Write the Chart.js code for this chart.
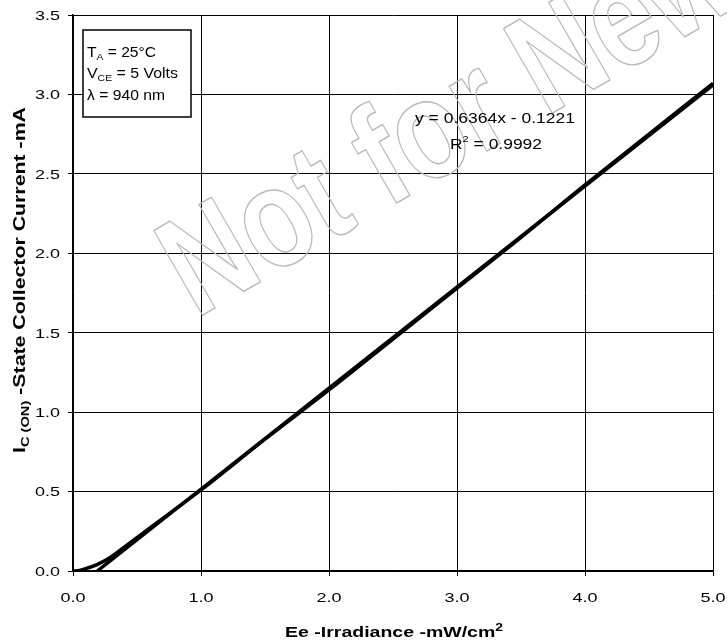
<!DOCTYPE html>
<html>
<head>
<meta charset="utf-8">
<script src="https://cdn.jsdelivr.net/npm/chart.js@4/dist/chart.umd.min.js"></script>
<style>
  html, body { margin: 0; padding: 0; background: #fff; }
  #wrap { width: 727px; height: 641px; position: relative; }
</style>
</head>
<body>
<div id="wrap"><canvas id="grafico"></canvas></div>
<script>
// measured curve
const medidoX = [0, 0.05, 0.1, 0.2, 0.3, 0.4, 0.5, 0.75, 1.0, 1.5, 2.0, 2.5, 3.0, 3.5, 4.0, 4.5, 5.0];
const medidoY = [0, 0.003, 0.015, 0.045, 0.09, 0.15, 0.21, 0.36, 0.51, 0.83, 1.14, 1.46, 1.78, 2.10, 2.43, 2.75, 3.07];
// linear trend line ends (y = 0.6364x - 0.1221)
const ajusteX = [0.19, 5.0];
const ajusteY = [0, 3.06];

const ticksX = ['0.0', '1.0', '2.0', '3.0', '4.0', '5.0'];
const ticksY = ['0.0', '0.5', '1.0', '1.5', '2.0', '2.5', '3.0', '3.5'];

const FONTE = '"Liberation Sans", Arial, sans-serif';

function pares(xs, ys) {
    return xs.map((x, i) => ({ x: x, y: ys[i] }));
}

// text pieces (with sub/superscripts), stretched horizontally to a width
function larguraRica(ctx, partes, negrito) {
    let w = 0;
    partes.forEach(p => {
        ctx.font = (negrito ? 'bold ' : '') + p.s + 'px ' + FONTE;
        w += ctx.measureText(p.t).width;
    });
    return w;
}

function textoRico(ctx, partes, x, y, alvo, negrito, alinhar) {
    const w = larguraRica(ctx, partes, negrito);
    const sx = alvo ? alvo / w : 1;
    let x0 = x;
    if (alinhar === 'center') x0 = x - w * sx / 2;
    if (alinhar === 'right') x0 = x - w * sx;
    ctx.save();
    ctx.translate(x0, y);
    ctx.scale(sx, 1);
    ctx.textAlign = 'left';
    ctx.textBaseline = 'alphabetic';
    ctx.fillStyle = '#000';
    let cx = 0;
    partes.forEach(p => {
        ctx.font = (negrito ? 'bold ' : '') + p.s + 'px ' + FONTE;
        ctx.fillText(p.t, cx, p.dy || 0);
        cx += ctx.measureText(p.t).width;
    });
    ctx.restore();
}

const pluginMarcaDagua = {
    id: 'marcaDagua',
    beforeDatasetsDraw(chart) {
        const ctx = chart.ctx;
        ctx.save();
        ctx.translate(196, 319);
        ctx.rotate(-30 * Math.PI / 180);
        ctx.scale(0.8, 1);
        ctx.font = 'bold 142px ' + FONTE;
        ctx.strokeStyle = '#b8b8b8';
        ctx.lineWidth = 1.4;
        ctx.lineJoin = 'round';
        ctx.strokeText('Not for New Design', 0, 0);
        ctx.restore();
    }
};

const pluginTextos = {
    id: 'textos',
    afterDraw(chart) {
        const ctx = chart.ctx;
        const sx = chart.scales.x;
        const sy = chart.scales.y;

        // tick labels
        ticksY.forEach(t => {
            const py = sy.getPixelForValue(parseFloat(t));
            textoRico(ctx, [{ t: t, s: 13.5 }], 60, py + 4.8, 25, false, 'right');
        });
        ticksX.forEach(t => {
            const px = sx.getPixelForValue(parseFloat(t));
            textoRico(ctx, [{ t: t, s: 13.5 }], px, 602, 25, false, 'center');
        });

        // axis titles
        textoRico(ctx, [
            { t: 'Ee -Irradiance -mW/cm', s: 15.5 },
            { t: '2', s: 11, dy: -6 }
        ], 285, 637, 218, true, 'left');

        ctx.save();
        ctx.translate(25, 453);
        ctx.rotate(-Math.PI / 2);
        textoRico(ctx, [
            { t: 'I', s: 16 },
            { t: 'C (ON)', s: 11, dy: 4 },
            { t: ' -State Collector Current -mA', s: 16 }
        ], 0, 0, 346, true, 'left');
        ctx.restore();

        // conditions box
        ctx.save();
        ctx.fillStyle = '#fff';
        ctx.fillRect(83, 30, 108, 87);
        ctx.strokeStyle = '#000';
        ctx.lineWidth = 1.5;
        ctx.strokeRect(83, 30, 108, 87);
        ctx.restore();
        textoRico(ctx, [{ t: 'T', s: 14.5 }, { t: 'A', s: 9.5, dy: 3 }, { t: ' = 25\u00B0C', s: 14.5 }], 87, 57, 69, false, 'left');
        textoRico(ctx, [{ t: 'V', s: 14.5 }, { t: 'CE', s: 9.5, dy: 3 }, { t: ' = 5 Volts', s: 14.5 }], 87, 78, 91, false, 'left');
        textoRico(ctx, [{ t: '\u03BB = 940 nm', s: 14.5 }], 87, 100, 78, false, 'left');

        // trend line equation
        textoRico(ctx, [{ t: 'y = 0.6364x - 0.1221', s: 15 }], 415, 123, 160, false, 'left');
        textoRico(ctx, [{ t: 'R', s: 15 }, { t: '2', s: 9.5, dy: -7 }, { t: ' = 0.9992', s: 15 }], 450, 149, 92, false, 'left');
    }
};

const dadosGrafico = {
    datasets: [
        {
            label: 'Medido',
            data: pares(medidoX, medidoY),
            showLine: true,
            borderColor: '#000',
            backgroundColor: '#000',
            borderWidth: 3.5,
            pointRadius: 0,
            cubicInterpolationMode: 'monotone'
        },
        {
            label: 'Linear',
            data: pares(ajusteX, ajusteY),
            showLine: true,
            borderColor: '#000',
            backgroundColor: '#000',
            borderWidth: 3.5,
            pointRadius: 0
        }
    ]
};

const configGrafico = {
    type: 'scatter',
    data: dadosGrafico,
    options: {
        responsive: true,
        maintainAspectRatio: false,
        animation: false,
        layout: { padding: { top: 15, right: 14, left: 0, bottom: 0 } },
        plugins: {
            legend: { display: false },
            tooltip: { enabled: false }
        },
        scales: {
            x: {
                type: 'linear',
                min: 0,
                max: 5,
                afterFit: s => { s.height = 70; },
                ticks: { display: false, stepSize: 1 },
                grid: { color: '#000', lineWidth: 1, tickLength: 5, tickColor: '#000' },
                border: { color: '#000', width: 1.5 }
            },
            y: {
                type: 'linear',
                min: 0,
                max: 3.5,
                afterFit: s => { s.width = 73; },
                ticks: { display: false, stepSize: 0.5 },
                grid: { color: '#000', lineWidth: 1, tickLength: 5, tickColor: '#000' },
                border: { color: '#000', width: 1.5 }
            }
        }
    },
    plugins: [pluginMarcaDagua, pluginTextos]
};

const instanciaGrafico = new Chart(document.getElementById('grafico'), configGrafico);
</script>
</body>
</html>
